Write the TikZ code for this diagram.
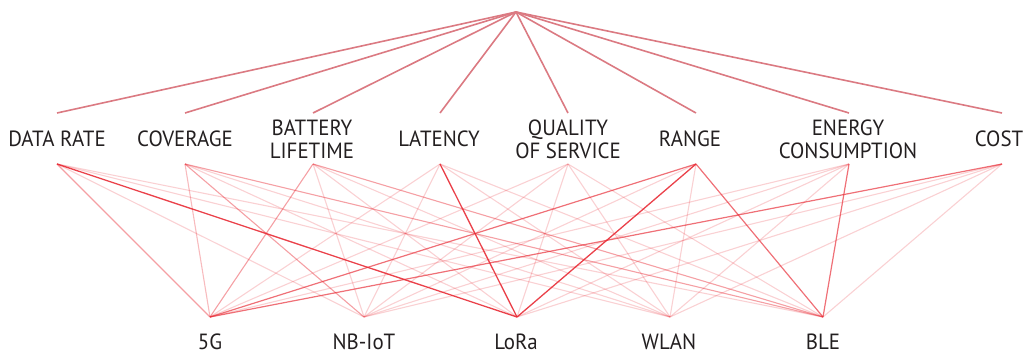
\documentclass[tikz,border=0pt]{standalone}
\usepackage{fontspec}
\setmainfont{PT Sans}[FakeStretch=0.95]
\definecolor{topline}{RGB}{219,122,130}
\definecolor{linkred}{RGB}{232,44,54}
\definecolor{labeltext}{RGB}{35,31,32}
\tikzset{
  toplink/.style={draw=topline, line width=1.6pt},
  lstrong/.style={draw=linkred, line width=1.3pt, draw opacity=0.9},
  lmstrong/.style={draw=linkred, line width=1.2pt, draw opacity=0.68},
  lmedium/.style={draw=linkred, line width=1.1pt, draw opacity=0.45},
  lmlight/.style={draw=linkred, line width=1.1pt, draw opacity=0.32},
  llight/.style={draw=linkred, line width=1.1pt, draw opacity=0.22},
  crit/.style={font=\fontsize{22}{23}\selectfont, text=labeltext, inner sep=0pt, align=center, anchor=base},
  tech/.style={font=\fontsize{22}{23}\selectfont, text=labeltext, inner sep=0pt, anchor=base},
}
\begin{document}
\begin{tikzpicture}[x=1pt,y=-1pt]
\useasboundingbox (0,0) rectangle (1023,355);
\coordinate (apex) at (516,12);
% criteria: top and bottom points
\foreach \i/\x in {1/57,2/185,3/313,4/440,5/568,6/696,7/849,8/1002}{
  \coordinate (ct\i) at (\x,113);
  \coordinate (cb\i) at (\x,164);
}
% technologies
\foreach \i/\x in {1/210,2/364,3/517,4/670,5/823}{
  \coordinate (t\i) at (\x,317);
}
% labels
\node[crit] (l1) at (57,147) {DATA RATE};
\node[crit] (l2) at (185,147) {COVERAGE};
\node[crit] (l3) at (312,159) {BATTERY\\LIFETIME};
\node[crit] (l4) at (439,147) {LATENCY};
\node[crit] (l5) at (568,159) {QUALITY\\OF SERVICE};
\node[crit] (l6) at (690,147) {RANGE};
\node[crit] (l7) at (848,159) {ENERGY\\CONSUMPTION};
\node[crit] (l8) at (999,147) {COST};
\node[tech] (n1) at (210,350) {5G};
\node[tech] (n2) at (364,350) {NB-IoT};
\node[tech] (n3) at (516,350) {LoRa};
\node[tech] (n4) at (669,350) {WLAN};
\node[tech] (n5) at (823,350) {BLE};
% top links
\foreach \i in {1,...,8}{ \draw[toplink] (apex) -- (ct\i); }
% light links
\foreach \c/\t in {1/2,1/4,1/5, 2/3,2/4, 3/2,3/3,3/4, 4/1,4/2,4/4,4/5,
  5/1,5/2,5/3,5/4,5/5, 6/2,6/4, 7/1,7/2,7/3,7/4, 8/2,8/3,8/4,8/5}{
  \draw[llight] (cb\c) -- (t\t);
}
\draw[lmlight] (cb2) -- (t1);
% medium links
\foreach \c/\t in {1/1, 2/2, 2/5, 3/1, 3/5}{ \draw[lmedium] (cb\c) -- (t\t); }
% medium-strong links
\foreach \c/\t in {6/1, 6/5, 7/5, 8/1}{ \draw[lmstrong] (cb\c) -- (t\t); }
% strong links
\foreach \c/\t in {1/3, 4/3, 6/3}{ \draw[lstrong] (cb\c) -- (t\t); }
\end{tikzpicture}
\end{document}
